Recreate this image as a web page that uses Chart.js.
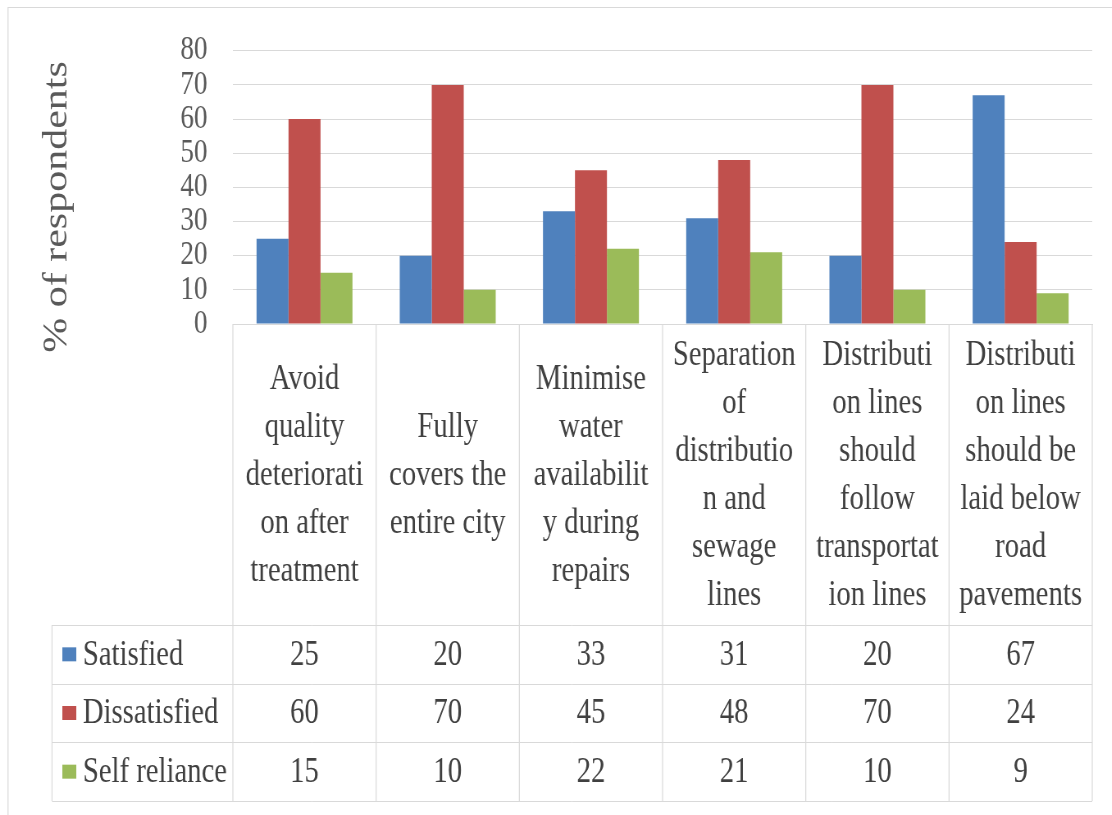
<!DOCTYPE html>
<html>
<head>
<meta charset="utf-8">
<script src="https://cdn.jsdelivr.net/npm/chart.js@4.4.1/dist/chart.umd.min.js"></script>
<style>
  html, body { margin: 0; padding: 0; background: #ffffff; overflow: hidden; }
  /* the whole figure uses a horizontally condensed look */
  #wrap { position: absolute; left: 0; top: 0; width: 1356px; height: 815px;
          transform: scaleX(0.82); transform-origin: 0 0; }
</style>
</head>
<body>
<div id="wrap"><canvas id="chart"></canvas></div>
<script>
// ---- data ----
const categories = [
  ['Avoid', 'quality', 'deteriorati', 'on after', 'treatment'],
  ['Fully', 'covers the', 'entire city'],
  ['Minimise', 'water', 'availabilit', 'y during', 'repairs'],
  ['Separation', 'of', 'distributio', 'n and', 'sewage', 'lines'],
  ['Distributi', 'on lines', 'should', 'follow', 'transportat', 'ion lines'],
  ['Distributi', 'on lines', 'should be', 'laid below', 'road', 'pavements']
];
const seriesNames = ['Satisfied', 'Dissatisfied', 'Self reliance'];
const satisfied    = [25, 20, 33, 31, 20, 67];
const dissatisfied = [60, 70, 45, 48, 70, 24];
const selfReliance = [15, 10, 22, 21, 10, 9];
const yTickValues  = [0, 10, 20, 30, 40, 50, 60, 70, 80];
const axisTitle    = '% of respondents';

// ---- styling ----
const seriesColors = ['#4f81bd', '#c0504d', '#9bbb59'];
const FONT = "'Liberation Serif', serif";
const lineColor = '#d9d9d9';
const textColor = '#404040';
const tickColor = '#595959';

// data table under the plot: legend keys, series names and values
const dataTablePlugin = {
  id: 'dataTable',
  beforeDraw(chart) {
    const { ctx } = chart;
    ctx.save();
    ctx.strokeStyle = lineColor;
    ctx.lineWidth = 1.22;
    ctx.beginPath();
    ctx.moveTo(9.8, 815);
    ctx.lineTo(9.8, 7.5);
    ctx.lineTo(chart.width, 7.5);
    ctx.stroke();
    ctx.restore();
  },
  afterDraw(chart) {
    const { ctx, scales: { x } } = chart;
    const n = categories.length;
    const step = (x.right - x.left) / n;
    const tableTop = 625;
    const tableBottom = 801;
    const tableLeft = 63.4;
    const rowH = (tableBottom - tableTop) / chart.data.datasets.length;

    ctx.save();
    ctx.strokeStyle = lineColor;
    // horizontal rules
    ctx.lineWidth = 1;
    for (let r = 0; r <= chart.data.datasets.length; r++) {
      const yy = Math.round(tableTop + r * rowH) + 0.5;
      ctx.beginPath();
      ctx.moveTo(tableLeft, yy);
      ctx.lineTo(x.right, yy);
      ctx.stroke();
    }
    // vertical rules
    ctx.lineWidth = 1.22;
    for (let i = 0; i <= n; i++) {
      const xx = x.left + i * step;
      ctx.beginPath();
      ctx.moveTo(xx, x.top);
      ctx.lineTo(xx, tableBottom);
      ctx.stroke();
    }
    ctx.beginPath();
    ctx.moveTo(tableLeft, tableTop);
    ctx.lineTo(tableLeft, tableBottom);
    ctx.stroke();

    // rows
    ctx.font = '35px ' + FONT;
    ctx.textBaseline = 'middle';
    chart.data.datasets.forEach((ds, r) => {
      const cy = tableTop + rowH * (r + 0.5);
      ctx.fillStyle = ds.backgroundColor;
      ctx.fillRect(76, cy - 7, 17, 14);
      ctx.fillStyle = textColor;
      ctx.textAlign = 'left';
      ctx.fillText(ds.label, 101, cy + 1);
      ctx.textAlign = 'center';
      ds.data.forEach((v, i) => {
        ctx.fillText(String(v), x.getPixelForValue(i), cy + 1);
      });
    });

    // vertical axis title
    ctx.translate(69.5, 207);
    ctx.rotate(-Math.PI / 2);
    ctx.font = '42px ' + FONT;
    ctx.fillStyle = tickColor;
    ctx.textAlign = 'center';
    ctx.textBaseline = 'middle';
    ctx.fillText(axisTitle, 0, 0);
    ctx.restore();
  }
};

const seriesData = [satisfied, dissatisfied, selfReliance];

new Chart(document.getElementById('chart'), {
  type: 'bar',
  data: {
    labels: categories,
    datasets: seriesNames.map((name, k) => ({
      label: name,
      data: seriesData[k],
      backgroundColor: seriesColors[k],
      borderWidth: 0,
      categoryPercentage: 0.67,
      barPercentage: 1.0
    }))
  },
  options: {
    responsive: true,
    maintainAspectRatio: false,
    animation: false,
    layout: { padding: { top: 50, right: 24, bottom: 14, left: 0 } },
    plugins: {
      legend: { display: false },
      tooltip: { enabled: false },
      title: { display: false }
    },
    scales: {
      x: {
        grid: { display: false },
        border: { display: true, color: lineColor, width: 1 },
        ticks: {
          autoSkip: false,
          maxRotation: 0,
          minRotation: 0,
          crossAlign: 'center',
          padding: 24,
          color: textColor,
          font: { family: FONT, size: 35, lineHeight: 48 / 35 }
        },
        afterFit(scale) { scale.height = 477; }
      },
      y: {
        min: 0,
        max: 80,
        afterBuildTicks(scale) { scale.ticks = yTickValues.map(v => ({ value: v })); },
        grid: { color: lineColor, lineWidth: 1, drawTicks: false },
        border: { display: false },
        ticks: {
          autoSkip: false,
          padding: 31,
          color: tickColor,
          font: { family: FONT, size: 33 }
        },
        afterFit(scale) { scale.width = 284; }
      }
    }
  },
  plugins: [dataTablePlugin]
});
</script>
</body>
</html>
